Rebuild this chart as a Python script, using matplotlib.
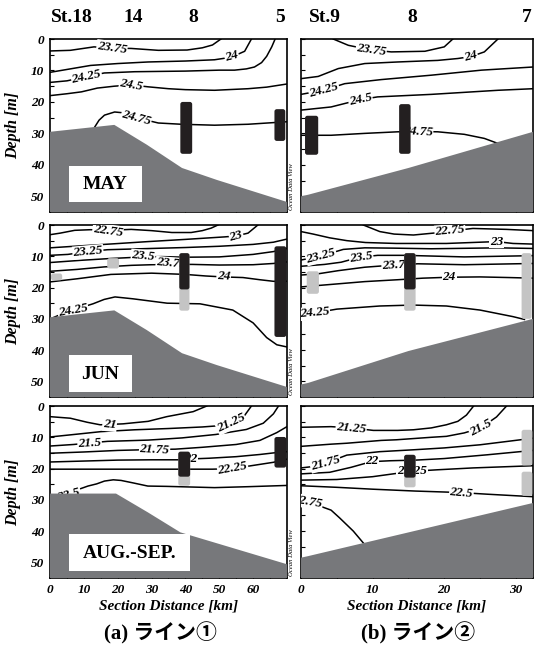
import matplotlib.pyplot as plt
from matplotlib.patches import Polygon, Rectangle, FancyBboxPatch
import numpy as np

#===========data===========
# seabed profile : (distance km, depth m)
bed_1 = [(0, 29.5), (19, 27.3), (28.6, 33.6), (39, 41), (49.3, 44.8), (70, 51.8)]
bed_1_aug = [(0, 28), (19.5, 28), (28.9, 34), (38.5, 40.4), (70, 50.6)]
bed_2 = [(0, 50), (1, 49.5), (15, 41), (32.4, 29.5)]
bed_2_jun = [(0, 51), (1, 50.5), (15, 40.3), (32.4, 30)]
bed_2_aug = [(0, 48.5), (1, 48), (32.4, 31)]

# sigma-t isolines, line 1 / line 2, per month
may_1 = {
    '23.75': [(0, 3.8), (6, 3.6), (13, 2.5), (18, 2.9), (24, 3.0), (32, 3.6), (40.5, 3.5), (45, 2.8), (48, 1.9), (50.5, 0)],
    '24': [(0, 10.6), (6, 9.5), (12, 8.4), (20, 7.8), (29, 7.3), (40, 7.0), (48.6, 6.6), (53.5, 5.8), (57.5, 3.9), (59.5, 0)],
    '24.25': [(0, 13.8), (5, 13.3), (10.7, 12.0), (16, 10.8), (25, 10.4), (40, 10.2), (50, 9.9), (54.5, 9.9), (58, 9.5),
              (60.4, 8.9), (62.5, 7.5), (64, 5.5), (65.5, 2.5), (66.5, 0)],
    '24.5': [(0, 18.0), (5, 17.4), (9.3, 16.8), (14, 15.6), (19, 15.0), (24, 14.6), (29, 15.2), (35, 15.8), (40, 16.1),
             (48.6, 16.3), (58.5, 15.8), (64, 15.3), (70, 14.3)],
    '24.75': [(13.2, 28), (14.5, 25.8), (16.1, 24.2), (19.1, 23.2), (22, 23.5), (25, 24.5), (28.5, 25.8), (32, 26.7),
              (38.8, 27.1), (48.6, 27.4), (58.5, 27.1), (70, 26.3)],
}
may_1_lab = [('23.75', 18.3, 2.8, -8), ('24', 53.7, 5.6, 15), ('24.25', 10.8, 12.1, 12),
             ('24.5', 24, 14.6, -10), ('24.75', 25.5, 25.0, -15)]

may_2 = {
    '23.75': [(4.5, 0), (6.6, 2), (9.6, 3.4), (12.6, 4.1), (17.3, 3.9), (20, 2.5), (21.2, 0)],
    '24': [(0, 12.6), (2.4, 11.9), (5.2, 9.4), (8.9, 7.8), (13.5, 7.3), (19.1, 6.8), (21.9, 6.2), (23.7, 5.6),
           (25.6, 4.1), (27.5, 0)],
    '24.25': [(0, 17.6), (3.1, 16.3), (6.1, 14.2), (11.2, 12.9), (18.2, 11.5), (25.2, 9.9), (32.4, 8.9)],
    '24.5': [(0, 22.6), (4.2, 21.6), (8.2, 19.3), (10.7, 18.4), (18.2, 17.6), (27.5, 16.3), (32.4, 15.8)],
    '24.75': [(0, 30.6), (4.2, 30.6), (8.9, 30), (13.5, 29.5), (16.3, 29.4), (19.1, 29.5), (22.8, 30.3), (25.6, 31.6),
              (27.5, 33.2)],
}
may_2_lab = [('23.75', 9.8, 3.5, -8), ('24', 23.7, 5.6, 15), ('24.25', 3.2, 16.2, 15),
             ('24.5', 8.3, 19.3, 12), ('24.75', 16.3, 29.4, -3)]

jun_1 = {
    '22.75': [(0, 3.1), (3, 2.6), (7.3, 1.7), (12, 1.5), (17.1, 1.7), (24, 1.4), (30, 1.8), (36, 2.4), (41.7, 2.4),
              (45, 1.8), (47.6, 1.0), (49.6, 0)],
    '23': [(0, 7.3), (10, 6.6), (19, 6.0), (29, 5.3), (40, 4.6), (51.6, 3.8), (55, 3.5), (58.5, 2.6), (61.4, 0)],
    '23.25': [(0, 9.7), (5.3, 9.4), (11.2, 8.5), (17, 7.9), (30, 7.5), (40, 7.2), (50, 6.8), (60, 6.2), (66, 5.5), (70, 4.5)],
    '23.5': [(0, 12.0), (9, 11.3), (18, 10.7), (22, 10.5), (27.5, 10.2), (33, 10.1), (40, 10.3), (50, 10.2), (60, 9.4),
             (66, 8.5), (70, 7.5)],
    '23.75': [(0, 14.8), (8, 14.2), (16, 13.4), (24, 12.9), (30, 12.7), (35.5, 12.6), (42, 12.6), (50, 12.8), (60, 12.7),
              (66, 12.3), (70, 11.8)],
    '24': [(0, 18.2), (8, 17.2), (18, 15.8), (30, 15.4), (40, 15.8), (46, 16.3), (51, 16.6), (57, 16.8), (62, 17.5),
           (66, 18), (70, 18)],
    '24.25': [(1, 29.6), (4, 28.2), (6.8, 27.2), (12.7, 25.2), (16, 23.8), (19.2, 23), (24.5, 23.6), (34.6, 25),
              (44.3, 25.2), (54, 27.2), (60, 31.3), (64, 36), (67, 38.3), (70, 39)],
}
jun_1_lab = [('22.75', 17.1, 1.9, -8), ('23', 55, 3.5, 15), ('23.25', 11.2, 8.6, 5), ('23.5', 27.5, 10.0, -5),
             ('23.75', 35.8, 12.4, -5), ('24', 51.3, 16.5, -3), ('24.25', 6.8, 27.3, 10)]

jun_2 = {
    '22.75': [(8.7, 0), (11, 2.1), (13, 2.9), (15.7, 3.2), (18.9, 2.5), (20.8, 1.9), (24, 1.1), (28.7, 1.4), (32.4, 1.8)],
    '23': [(0, 2.1), (1.7, 2.9), (4, 4.1), (6.4, 5.0), (9, 5.6), (13.3, 5.9), (20.3, 5.9), (25, 5.5), (27.3, 5.3),
           (29.6, 5.9), (32.4, 6.1)],
    '23.25': [(0, 11.2), (2.8, 9.9), (5.9, 7.8), (8.9, 7.3), (13, 7.4), (18.2, 7.6), (27.5, 7.3), (32.4, 7.5)],
    '23.5': [(0, 13.2), (3.3, 12.6), (5.6, 11.9), (8.2, 10.3), (10.7, 9.7), (14.5, 9.7), (22.8, 10.2), (32.4, 9.8)],
    '23.75': [(0, 16.0), (2.4, 15.6), (5.2, 14.6), (8.9, 13.5), (12.4, 12.9), (16.3, 12.4), (22.8, 12.7), (32.4, 12.3)],
    '24': [(0, 19.8), (4.2, 19.0), (8.9, 18.1), (13.5, 17.5), (17, 17.0), (20.7, 16.7), (25, 16.6), (29, 16.8), (32.4, 17.0)],
    '24.25': [(0, 28.5), (1.7, 28.2), (5, 26.9), (11, 25.9), (15.6, 25.6), (20.3, 25.9), (25, 27.2), (29.6, 29.3),
              (31.2, 30.2)],
}
jun_2_lab = [('22.75', 20.8, 1.9, 5), ('23', 27.3, 5.3, 0), ('23.25', 2.8, 9.9, 15), ('23.5', 8.4, 10.3, 8),
             ('23.75', 13.4, 13.0, 3), ('24', 20.7, 16.7, 0), ('24.25', 1.9, 28.2, 5)]

aug_1 = {
    '21': [(0, 3.4), (6, 3.9), (11, 5.2), (14.8, 6.0), (17.6, 5.9), (21.6, 5.7), (29, 4.9), (34.5, 3.4), (42.3, 1.8),
           (46.3, 0)],
    '21.25': [(0, 9.9), (8, 9.0), (15, 8.2), (25, 7.6), (35, 7.2), (45, 6.7), (50, 6.3), (54, 5.0), (57.5, 3.0), (59.5, 0)],
    '21.5': [(0, 12.8), (7, 12.3), (11.7, 11.8), (17, 11.3), (29, 10.9), (39, 10.2), (49, 9.1), (58, 7.5), (63, 5.5),
             (66, 2.5), (67.5, 0)],
    '21.75': [(0, 15.1), (10, 14.7), (20, 14.2), (30.9, 13.9), (37, 13.8), (45, 13.2), (55, 12.3), (62, 11), (67, 8.5),
              (70, 6.6)],
    '22': [(0, 17.9), (10, 17.6), (20, 17.3), (30, 17.2), (38, 17.2), (42.2, 16.9), (47, 16.7), (55, 16.2), (62, 15.5),
           (66, 15), (70, 14.6)],
    '22.25': [(0, 20.2), (20, 20.2), (40, 20.2), (48, 20.2), (54, 20.0), (60, 19), (66, 18), (70, 17)],
    '22.5': [(6, 27.6), (11.2, 25.6), (13.8, 24.9), (16.1, 24), (18.7, 23.6), (21, 23.8), (24.6, 24.6), (28.9, 25.6),
             (34.5, 25.7), (48.6, 26.1), (58.5, 25.8), (70, 25.4)],
}
aug_1_lab = [('21', 17.6, 6.0, -5), ('21.25', 53.5, 5.5, 25), ('21.5', 11.7, 11.9, 3), ('21.75', 30.9, 13.9, -3),
             ('22', 41.6, 17.0, 0), ('22.25', 54, 20.1, 10), ('22.5', 5.6, 28.4, 15)]

aug_2 = {
    '21.25': [(0, 6.8), (4.2, 6.6), (7, 7.0), (10.1, 7.8), (13.5, 7.8), (15.7, 7.6), (18.2, 7.0), (20.3, 6.0), (21.9, 4.9),
              (23.1, 2.9), (24.1, 0)],
    '21.5': [(0, 12.9), (4.2, 12.2), (6.4, 11.9), (11.2, 11), (13.3, 10.8), (18.2, 10.0), (20.3, 9.7), (22.8, 8.6),
             (25.1, 7.0), (27.3, 3.5), (28.7, 0)],
    '21.75': [(0, 19.8), (1.5, 19.4), (3.3, 18.4), (6.4, 15.7), (11, 14.6), (15.7, 14.0), (20, 13.4), (25, 12.4),
              (32.4, 10.3)],
    '22': [(0, 21.7), (4, 21.2), (7, 19.6), (9.8, 17.8), (12.5, 17.5), (16, 17.3), (20, 16.8), (26, 15.6), (32.4, 14.2)],
    '22.25': [(0, 23.7), (5, 23.5), (10, 22.6), (13.5, 21.5), (16.1, 20.8), (19, 20.4), (24, 19.8), (30, 19.3),
              (32.4, 19.1)],
    '22.5': [(0, 25.5), (5, 26.0), (10, 26.6), (16, 27.2), (20, 27.5), (22.4, 27.7), (26, 28.2), (30, 28.7), (32.4, 29.0)],
    '22.75': [(1, 30.7), (2.4, 31.8), (4.2, 33.3), (5.4, 35.8), (7.3, 40), (8.7, 43.8)],
}
aug_2_lab = [('21.25', 7, 7.0, -5), ('21.5', 25.1, 7.0, 28), ('21.75', 3.4, 18.3, 15), ('22', 9.9, 17.7, 0),
             ('22.25', 15.5, 20.8, 0), ('22.5', 22.4, 27.7, -5), ('22.75', 0.9, 30.6, -10)]

# observation bars : (x0, x1, top, bottom, kind)
may_1_bars = [(38.5, 42, 20, 36.5, 'black'), (66.3, 69.5, 22.3, 32.4, 'black')]
may_2_bars = [(0.56, 2.4, 24.4, 36.8, 'black'), (13.7, 15.3, 20.7, 36.5, 'black')]
jun_1_bars = [(0.3, 3.6, 15.5, 17.7, 'gray'), (16.9, 20.4, 10.6, 13.9, 'gray'),
              (38.2, 41.2, 9, 27.4, 'gray'), (38.2, 41.2, 9, 20.6, 'black'), (66.3, 69.8, 6.8, 35.8, 'black')]
jun_2_bars = [(0.8, 2.5, 14.8, 22, 'gray'), (14.4, 16, 9, 27.4, 'gray'), (14.4, 16, 9, 20.6, 'black'),
              (30.8, 32.2, 9, 30, 'gray')]
aug_1_bars = [(37.9, 41.4, 14.6, 25.5, 'gray'), (37.9, 41.4, 14.6, 22.6, 'black'), (66.3, 69.8, 9.9, 19.7, 'black')]
aug_2_bars = [(14.4, 16, 15.6, 26, 'gray'), (14.4, 16, 15.6, 22.9, 'black'),
              (30.8, 32.3, 7.6, 19, 'gray'), (30.8, 32.3, 21, 28.7, 'gray')]

stations_1 = ['St.18', '14', '8', '5']
stations_2 = ['St.9', '8', '7']
months = ['MAY', 'JUN', 'AUG.-SEP.']

#===========style===========
serif = 'Liberation Serif'
bed_color = '#77787b'
bar_colors = {'black': '#231f20', 'gray': '#c4c4c4'}

fig = plt.figure(figsize=(5.34, 6.49), dpi=100)

rows = [(0.6733, 0.2666), (0.3883, 0.2650), (0.1094, 0.2650)]
cols = [(0.0936, 0.4438, 70.0), (0.5637, 0.4345, 32.4)]


def draw_panel(ax, xmax, bed, lines, labels, bars, left, bottom):
    ax.set_xlim(0, xmax)
    ax.set_ylim(55, 0)
    for lev, pts in lines.items():
        pts = np.array(pts)
        ax.plot(pts[:, 0], pts[:, 1], color='black', lw=1.1, zorder=2)
    for lev, x, y, rot in labels:
        ax.text(x, y, lev, rotation=rot, ha='center', va='center', rotation_mode='anchor',
                fontsize=9.5, fontweight='bold', style='italic', family=serif, zorder=3, clip_on=True,
                bbox=dict(boxstyle='square,pad=0.05', fc='white', ec='none'))
    poly = list(bed) + [(xmax, 60), (0, 60)]
    ax.add_patch(Polygon(poly, closed=True, fc=bed_color, ec='none', zorder=4))
    # bars with small rounded ends
    if xmax > 50:
        r, asp = 0.7, 1.07
    else:
        r, asp = 0.33, 2.27
    for x0, x1, top, bot, kind in bars:
        ax.add_patch(FancyBboxPatch((x0, top), x1 - x0, bot - top,
                                    boxstyle=f'round,pad=0,rounding_size={r}', mutation_aspect=asp,
                                    fc=bar_colors[kind], ec='none', zorder=5))
    ax.set_xticks(np.arange(0, xmax, 5))
    ax.set_yticks(np.arange(0, 55, 5))
    ax.tick_params(direction='in', length=3, width=0.8, top=False, right=False,
                   labelsize=9.5, pad=4)
    if bottom:
        ax.set_xticklabels([str(int(v)) if v % 10 == 0 else '' for v in np.arange(0, xmax, 5)])
    else:
        ax.set_xticklabels([])
    if left:
        ax.set_yticklabels([str(int(v)) if v % 10 == 0 else '' for v in np.arange(0, 55, 5)])
    else:
        ax.set_yticklabels([])
        ax.text(-0.043, 0.01, 'Ocean Data View', transform=ax.transAxes, rotation=90,
                ha='center', va='bottom', fontsize=4.8, style='italic', family=serif, clip_on=False)
    for lab in ax.get_xticklabels() + ax.get_yticklabels():
        lab.set_fontfamily(serif)
        lab.set_fontweight('bold')
        lab.set_fontstyle('italic')
    for s in ax.spines.values():
        s.set_linewidth(1.2)


panels = [
    (bed_1, may_1, may_1_lab, may_1_bars, bed_2, may_2, may_2_lab, may_2_bars),
    (bed_1, jun_1, jun_1_lab, jun_1_bars, bed_2_jun, jun_2, jun_2_lab, jun_2_bars),
    (bed_1_aug, aug_1, aug_1_lab, aug_1_bars, bed_2_aug, aug_2, aug_2_lab, aug_2_bars),
]
# month boxes (axes fraction): x0, y0, w, h, text x, text y
month_boxes = [(0.08, 0.058, 0.308, 0.208, 0.232, 0.16),
               (0.08, 0.03, 0.266, 0.214, 0.211, 0.128),
               (0.08, 0.04, 0.51, 0.216, 0.336, 0.145)]

for i, (b1, c1, l1, r1, b2, c2, l2, r2) in enumerate(panels):
    bottom_row = (i == 2)
    axL = fig.add_axes([cols[0][0], rows[i][0], cols[0][1], rows[i][1]])
    draw_panel(axL, cols[0][2], b1, c1, l1, r1, True, bottom_row)
    axR = fig.add_axes([cols[1][0], rows[i][0], cols[1][1], rows[i][1]])
    draw_panel(axR, cols[1][2], b2, c2, l2, r2, False, bottom_row)

    bx, by, bw, bh, tx, ty = month_boxes[i]
    axL.add_patch(Rectangle((bx, by), bw, bh, transform=axL.transAxes, fc='white', ec='none', zorder=6))
    axL.text(tx, ty, months[i], transform=axL.transAxes, ha='center', va='center',
             fontsize=14, fontweight='bold', family=serif, zorder=7)

    yc = rows[i][0] + rows[i][1] / 2
    fig.text(13 / 534, yc, 'Depth [m]', rotation=90, ha='center', va='center',
             fontsize=11.5, fontweight='bold', style='italic', family=serif)

    if bottom_row:
        for x0, w, _ in cols:
            fig.text(x0 + w / 2, 0.066, 'Section Distance [km]', ha='center', va='center',
                     fontsize=11, fontweight='bold', style='italic', family=serif)
        fig.text(160 / 534, 0.0247, '(a) ライン①', ha='center', va='center', fontsize=15,
                 fontweight='bold', family=[serif, 'Noto Sans CJK JP'])
        fig.text(418 / 534, 0.0247, '(b) ライン②', ha='center', va='center', fontsize=15,
                 fontweight='bold', family=[serif, 'Noto Sans CJK JP'])

# station names along the top
for name, px in zip(stations_1, [72, 133, 193, 280]):
    fig.text(px / 534, 1 - 17 / 649, name, ha='center', va='center', fontsize=14,
             fontweight='bold', family=serif)
for name, px in zip(stations_2, [325, 412, 527]):
    fig.text(px / 534, 1 - 17 / 649, name, ha='center', va='center', fontsize=14,
             fontweight='bold', family=serif)

plt.savefig('out.png', dpi=100)
